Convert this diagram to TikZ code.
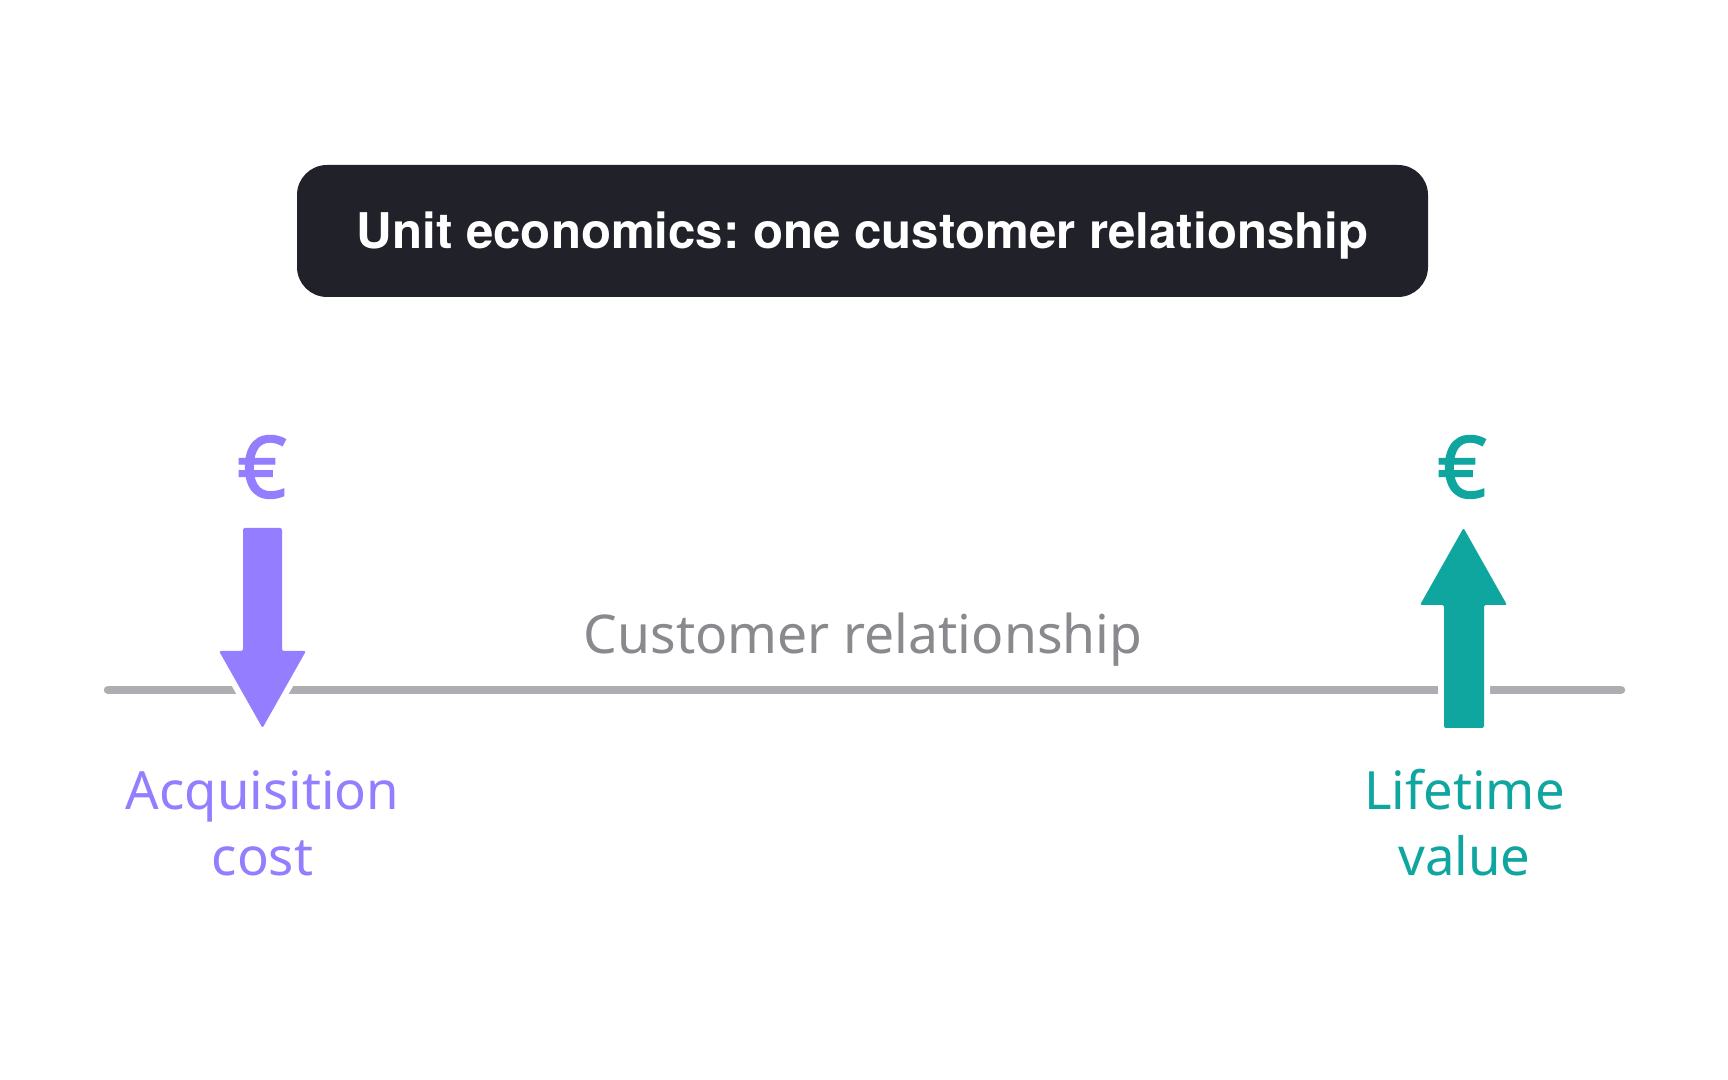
\documentclass[tikz,border=0pt]{standalone}
\usepackage{fontspec}
\setmainfont{Noto Sans}
\newfontfamily\headfont{TeX Gyre Heros}
\newfontfamily\eurofont{Noto Sans}[FakeBold=1.5]

\definecolor{titlebg}{HTML}{202129}
\definecolor{costpurple}{HTML}{957DFF}
\definecolor{valueteal}{HTML}{0FA6A0}
\definecolor{linegray}{HTML}{AEAEB2}
\definecolor{textgray}{HTML}{8A8A8E}

\begin{document}
\frenchspacing
\begin{tikzpicture}[
  txt/.style={inner sep=0pt, anchor=base, align=center},
  euro/.style={inner sep=0pt, font=\eurofont\fontsize{24.5}{28}\selectfont},
  blockarrow/.style={preaction={draw=white, line width=0.12cm, line join=round}, rounded corners=0.02cm}
]
\fill[white] (0,0) rectangle (17.28,10.8);
\useasboundingbox (0,0) rectangle (17.28,10.8);

% title box
\node[fill=titlebg, rounded corners=0.3cm, minimum width=11.31cm, minimum height=1.32cm,
  text=white, text height=0.35cm, text depth=0pt, inner sep=0pt,
  font=\headfont\bfseries\fontsize{14}{16}\selectfont] (title) at (8.625,8.49) {Unit economics: one customer relationship};

% time line
\coordinate (start) at (1.08,3.90);
\coordinate (end) at (16.21,3.90);
\draw[linegray, line width=0.085cm, line cap=round] (start) -- (end);
\node[txt, text=textgray, font=\fontsize{15.2}{18}\selectfont] (rel) at (8.63,4.26) {Customer relationship};

% acquisition cost
\node[euro, text=costpurple] (eurocost) at (2.62,6.13) {€};
\fill[costpurple, blockarrow] (2.43,5.52) -- (2.82,5.52) -- (2.82,4.29) -- (3.06,4.29)
  -- (2.625,3.52) -- (2.19,4.29) -- (2.43,4.29) -- cycle;
\node[txt, text=costpurple, font=\fontsize{15}{18.8}\selectfont] (cost) at (2.625,2.04) {Acquisition\\cost};

% lifetime value
\node[euro, text=valueteal] (eurovalue) at (14.62,6.13) {€};
\fill[valueteal, blockarrow] (14.44,3.52) -- (14.84,3.52) -- (14.84,4.75) -- (15.07,4.75)
  -- (14.635,5.52) -- (14.20,4.75) -- (14.44,4.75) -- cycle;
\node[txt, text=valueteal, font=\fontsize{15}{18.8}\selectfont] (value) at (14.645,2.04) {Lifetime\\value};
\end{tikzpicture}
\end{document}
